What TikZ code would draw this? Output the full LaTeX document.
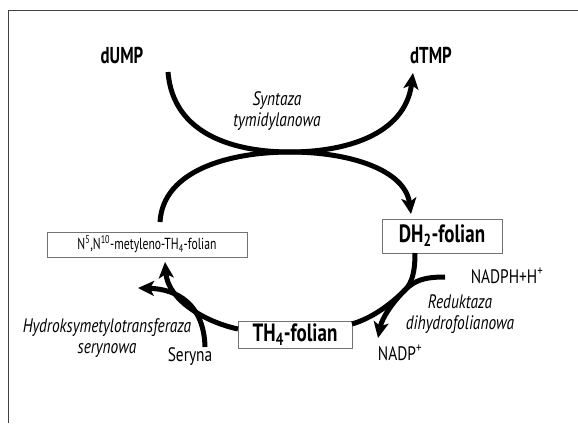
\documentclass[tikz,border=0pt]{standalone}
\usepackage{fontspec}
\newfontfamily\diagfont[FakeStretch=0.79]{PT Sans}
\newfontfamily\diagnarrow[FakeStretch=0.73]{PT Sans}
\newfontfamily\diagbold[FakeStretch=0.76]{PT Sans}
\usetikzlibrary{arrows.meta}
\tikzset{every picture/.style={line width=0.75pt}}
\tikzset{
  flow/.style={line width=5pt,-{Stealth[length=16pt,width=15pt,inset=4pt]}},
  flowplain/.style={line width=5pt},
  cmpd/.style={draw=black!55,line width=0.9pt,inner sep=0pt,font=\diagnarrow\fontsize{16}{19}\selectfont},
  cmpdbig/.style={cmpd,font=\diagbold\fontsize{25}{27}\selectfont\bfseries},
  bigtxt/.style={inner sep=0pt,font=\diagnarrow\fontsize{23}{25}\selectfont\bfseries},
  smalltxt/.style={inner sep=0pt,font=\diagfont\fontsize{19.5}{21}\selectfont},
  enz/.style={inner sep=0pt,align=center,font=\diagfont\fontsize{19.5}{21}\selectfont\itshape}
}

\begin{document}
\begin{tikzpicture}[x=1pt,y=1pt,yscale=-1,xscale=1]
\useasboundingbox (0,0) rectangle (578,423);

%Straight Lines [frame]
\draw[line width=1.3pt,black!75] (8.5,423) -- (8.5,10.5) -- (578,10.5);

% Text Node
\node[bigtxt] (dump) at (122,55) {dUMP};
% Text Node
\node[bigtxt] (dtmp) at (431,55) {dTMP};
% Text Node
\node[enz] (tyms) at (277,111) {Syntaza\\tymidylanowa};
% Text Node
\node[cmpd,minimum width=200pt,minimum height=25pt] (mthf) at (147,244.5) {N\textsuperscript{5},N\textsuperscript{10}-metyleno-TH\textsubscript{4}-folian};
% Text Node
\node[cmpdbig,minimum width=120pt,minimum height=34pt] (dhf) at (442,236) {DH\textsubscript{2}-folian};
% Text Node
\node[cmpdbig,minimum width=114pt,minimum height=27pt] (thf) at (295,334.5) {TH\textsubscript{4}-folian};
% Text Node
\node[smalltxt] (nadph) at (507,276) {NADPH+H\textsuperscript{+}};
% Text Node
\node[smalltxt] (nadp) at (400,353) {NADP\textsuperscript{+}};
% Text Node
\node[enz] (dhfr) at (460,314.5) {Reduktaza\\dihydrofolianowa};
% Text Node
\node[enz] (shmt) at (107,338.5) {Hydroksymetylotransferaza\\serynowa};
% Text Node
\node[smalltxt] (ser) at (190,357) {Seryna};

% ends of the curves
\coordinate (dump-out) at (168,72);
\coordinate (dtmp-in) at (413,73);
\coordinate (cross) at (290,152);
\coordinate (mthf-out) at (160,222);
\coordinate (dhf-in) at (411,214);
\coordinate (dhf-out) at (415,253);
\coordinate (thf-in) at (352,324);
\coordinate (kiss) at (405,290);
\coordinate (nadph-out) at (445,277);
\coordinate (nadp-in) at (378,338);
\coordinate (thf-out) at (238,329);
\coordinate (mthf-in) at (165,262);
\coordinate (ser-out) at (205,347);
\coordinate (gly-in) at (138,288);

%Curve Lines [dUMP -> dTMP]
\draw[flow] (dump-out) .. controls (173,135) and (235,152) .. (cross) .. controls (345,152) and (405,135) .. (dtmp-in);
%Curve Lines [methylene -> DH2]
\draw[flow] (mthf-out) .. controls (163,170) and (230,152) .. (cross) .. controls (350,152) and (405,170) .. (dhf-in);
%Curve Lines [DH2 -> TH4]
\draw[flowplain] (dhf-out) .. controls (415,272) and (412,283) .. (kiss) .. controls (390,305) and (372,318) .. (thf-in);
%Curve Lines [NADPH]
\draw[flow] (nadph-out) .. controls (425,277) and (415,280) .. (kiss) .. controls (392,303) and (382,318) .. (nadp-in);
%Curve Lines [TH4 -> methylene]
\draw[flow] (thf-out) .. controls (205,322) and (168,300) .. (mthf-in);
%Curve Lines [serine]
\draw[flow] (ser-out) .. controls (204,305) and (178,289) .. (gly-in);

\end{tikzpicture}
\end{document}
